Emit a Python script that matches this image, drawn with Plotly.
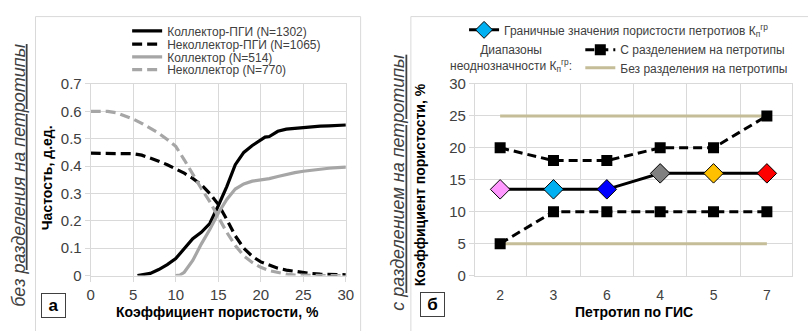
import plotly.graph_objects as go

W, H = 808, 331
def px(x): return x / W
def py(y): return 1 - y / H

# ---------------- Panel a data ----------------
kol_pgi_x = [5.5, 6, 7, 8, 9, 10, 11, 12, 13, 14, 15, 16, 17, 18, 19, 20, 20.5, 21, 21.5, 22, 23, 24, 25, 26, 27, 28, 29, 30]
kol_pgi_y = [0, 0.002, 0.008, 0.022, 0.04, 0.062, 0.098, 0.135, 0.158, 0.19, 0.255, 0.325, 0.405, 0.45, 0.475, 0.497, 0.506, 0.508, 0.518, 0.527, 0.535, 0.538, 0.542, 0.544, 0.546, 0.547, 0.549, 0.55]

nekol_pgi_x = [0, 1, 2, 3, 4, 5, 6, 7, 8, 9, 10, 11, 12, 13, 14, 15, 16, 17, 18, 19, 20, 21, 22, 23, 24, 25, 26, 27, 28, 29, 30]
nekol_pgi_y = [0.447, 0.447, 0.447, 0.447, 0.446, 0.445, 0.44, 0.43, 0.418, 0.405, 0.39, 0.374, 0.355, 0.332, 0.30, 0.26, 0.205, 0.145, 0.10, 0.07, 0.05, 0.037, 0.027, 0.02, 0.015, 0.01, 0.007, 0.005, 0.004, 0.003, 0.003]

kol_x = [10, 10.5, 11, 12, 13, 14, 15, 16, 17, 18, 19, 20, 21, 22, 23, 24, 25, 26, 27, 28, 29, 30]
kol_y = [0, 0.002, 0.012, 0.055, 0.115, 0.168, 0.228, 0.278, 0.316, 0.335, 0.345, 0.35, 0.354, 0.362, 0.37, 0.376, 0.381, 0.385, 0.389, 0.392, 0.394, 0.396]

nekol_x = [0, 1, 2, 3, 4, 5, 6, 7, 8, 9, 10, 11, 12, 13, 14, 15, 16, 17, 18, 19, 20, 21, 22, 23, 24, 25, 26, 27, 28, 29, 30]
nekol_y = [0.60, 0.60, 0.60, 0.595, 0.585, 0.572, 0.556, 0.538, 0.52, 0.497, 0.472, 0.423, 0.368, 0.318, 0.27, 0.215, 0.158, 0.11, 0.072, 0.048, 0.03, 0.018, 0.01, 0.005, 0.002, 0.001, 0, 0, 0, 0, 0]

names_a = ["Коллектор-ПГИ (N=1302)", "Неколлектор-ПГИ (N=1065)", "Коллектор (N=514)", "Неколлектор (N=770)"]
a_xticks = [0, 5, 10, 15, 20, 25, 30]
a_yticks = [0, 0.1, 0.2, 0.3, 0.4, 0.5, 0.6, 0.7]

# ---------------- Panel б data ----------------
petrotypes = ["2", "3", "6", "4", "5", "7"]
boundary = [13.5, 13.5, 13.5, 16, 16, 16]
boundary_colors = ["#ff99ff", "#00b0f0", "#0000ff", "#808080", "#ffc000", "#ff0000"]
upper_sep = [20, 18, 18, 20, 20, 25]
lower_sep = [5, 10, 10, 10, 10, 10]
upper_nosep = [25, 25, 25, 25, 25, 25]
lower_nosep = [5, 5, 5, 5, 5, 5]
b_yticks = [0, 5, 10, 15, 20, 25, 30]

FONT = "Liberation Sans"
GRID = "#d9d9d9"
GRAYL = "#a6a6a6"
TAN = "#c4bd97"
TXT = "#404040"

fig = go.Figure()

# Panel a traces
fig.add_trace(go.Scatter(x=kol_pgi_x, y=kol_pgi_y, mode="lines", name=names_a[0],
                         line=dict(color="black", width=3.2), xaxis="x", yaxis="y", legend="legend"))
fig.add_trace(go.Scatter(x=nekol_pgi_x, y=nekol_pgi_y, mode="lines", name=names_a[1],
                         line=dict(color="black", width=3.2, dash="10px,5px"), xaxis="x", yaxis="y", legend="legend2"))
fig.add_trace(go.Scatter(x=kol_x, y=kol_y, mode="lines", name=names_a[2],
                         line=dict(color=GRAYL, width=3.2), xaxis="x", yaxis="y", legend="legend3"))
fig.add_trace(go.Scatter(x=nekol_x, y=nekol_y, mode="lines", name=names_a[3],
                         line=dict(color=GRAYL, width=3.2, dash="10px,5px"), xaxis="x", yaxis="y", legend="legend4"))

# Panel б traces
fig.add_trace(go.Scatter(x=petrotypes, y=upper_nosep, mode="lines", name="Без разделения на петротипы",
                         line=dict(color=TAN, width=3), xaxis="x2", yaxis="y2", legend="legend7"))
fig.add_trace(go.Scatter(x=petrotypes, y=lower_nosep, mode="lines", showlegend=False,
                         line=dict(color=TAN, width=3), xaxis="x2", yaxis="y2"))
fig.add_trace(go.Scatter(x=petrotypes, y=upper_sep, mode="lines+markers", name="С разделением на петротипы",
                         line=dict(color="black", width=3, dash="9px,5px"),
                         marker=dict(symbol="square", size=11, color="black"),
                         xaxis="x2", yaxis="y2", legend="legend6"))
fig.add_trace(go.Scatter(x=petrotypes, y=lower_sep, mode="lines+markers", showlegend=False,
                         line=dict(color="black", width=3, dash="9px,5px"),
                         marker=dict(symbol="square", size=11, color="black"),
                         xaxis="x2", yaxis="y2"))
fig.add_trace(go.Scatter(x=petrotypes, y=boundary, mode="lines+markers", showlegend=False,
                         line=dict(color="black", width=3),
                         marker=dict(symbol="diamond", size=15, color=boundary_colors,
                                     line=dict(color="black", width=1)),
                         xaxis="x2", yaxis="y2"))
fig.add_trace(go.Scatter(x=[None], y=[None], mode="lines+markers",
                         name="Граничные значения пористости петротиов К<sub>п</sub><sup>гр</sup>",
                         line=dict(color="black", width=3),
                         marker=dict(symbol="diamond", size=13, color="#00b0f0",
                                     line=dict(color="black", width=1)),
                         xaxis="x2", yaxis="y2", legend="legend5"))

def leg(xp, yp):
    return dict(x=px(xp), y=py(yp), xanchor="left", yanchor="middle",
                bgcolor="rgba(0,0,0,0)", borderwidth=0,
                font=dict(family=FONT, size=12, color=TXT))

axis_common = dict(showgrid=True, gridcolor=GRID, gridwidth=1, zeroline=False,
                   showline=True, linecolor=GRID, linewidth=1, mirror=True,
                   ticks="outside", ticklen=5, tickcolor=GRID,
                   tickfont=dict(family=FONT, size=15, color=TXT))

fig.update_layout(
    width=W, height=H, margin=dict(l=0, r=0, t=0, b=0),
    paper_bgcolor="white", plot_bgcolor="white",
    font=dict(family=FONT, color=TXT),
    xaxis=dict(domain=[px(88), px(347)], range=[0, 30], tickvals=a_xticks, anchor="y", **axis_common),
    yaxis=dict(domain=[py(281), py(79)], range=[0, 0.7], tickvals=a_yticks, anchor="x", **axis_common),
    xaxis2=dict(domain=[px(478), px(800)], type="category", tickson="boundaries", anchor="y2",
                ticklabelstandoff=7,
                **{**axis_common, "tickfont": dict(family=FONT, size=14, color=TXT),
                   "ticklen": 5, "tickcolor": "rgba(0,0,0,0)"}),
    yaxis2=dict(domain=[py(281), py(79)], range=[0, 30], tickvals=b_yticks, anchor="x2",
                **{**axis_common, "tickfont": dict(family=FONT, size=15, color=TXT)}),
    legend=leg(125, 23), legend2=leg(125, 37), legend3=leg(125, 50.5), legend4=leg(125, 64),
    legend5=leg(467, 22), legend6=leg(585, 43), legend7=leg(585, 62),
    shapes=[
        dict(type="rect", xref="paper", yref="paper", x0=px(32), x1=px(362), y0=py(345), y1=py(8),
             line=dict(color=GRID, width=1), layer="below"),
        dict(type="rect", xref="paper", yref="paper", x0=px(413), x1=px(830), y0=py(345), y1=py(8),
             line=dict(color=GRID, width=1), layer="below"),
    ],
)

ann = []
def A(text, x, y, size, angle=0, **kw):
    d = dict(text=text, x=px(x), y=py(y), xref="paper", yref="paper", showarrow=False,
             textangle=angle, xanchor="center", yanchor="middle",
             font=dict(family=FONT, size=size, color=kw.pop("color", "black")))
    d.update(kw)
    ann.append(d)

A("<b>Частость, д.ед.</b>", 43, 178, 14, -90)
A("<b>Коэффициент пористости, %</b>", 217, 319, 14)
A("<b>Коэффициент пористости, %</b>", 423, 185, 14, -90)
A("<b>Петротип по ГИС</b>", 639, 319, 14)
A("<i>без <u>разделения на петротипы</u></i>", 15, 175, 18, -90, color=TXT)
A("<i>с <u>разделением на петротипы</u></i>", 400, 183, 18, -90, color=TXT)
A("<b>а</b>", 50, 313, 17, bordercolor="#404040", borderwidth=1, borderpad=0, width=23, height=23,
  bgcolor="white")
A("<b>б</b>", 435, 312, 17, bordercolor="#404040", borderwidth=1, borderpad=0, width=23, height=23,
  bgcolor="white")
A("Диапазоны<br>неоднозначности К<sub>п</sub><sup>гр</sup>:", 515, 52, 12, color=TXT)
fig.update_layout(annotations=ann)

fig.write_html("out.html")
